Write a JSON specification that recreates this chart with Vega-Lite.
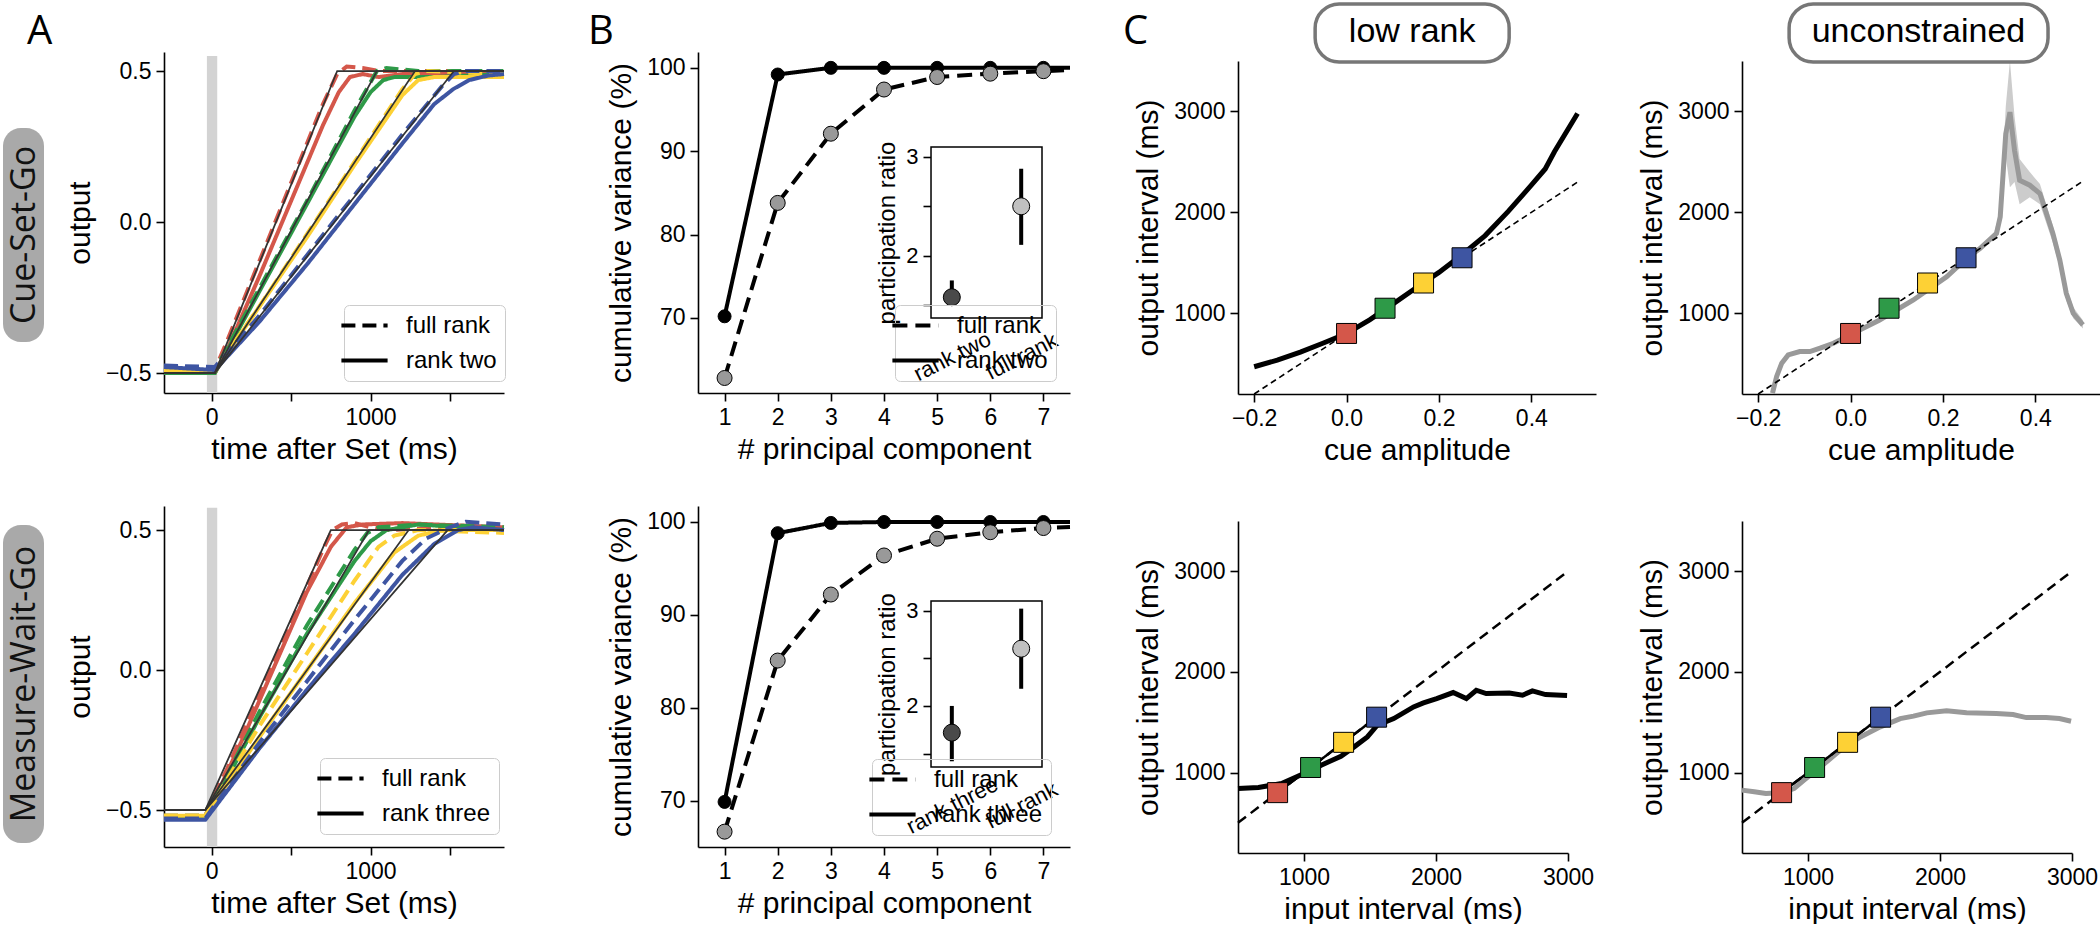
{
"$schema":"https://vega.github.io/schema/vega-lite/v6.json",
"background":"white",
"padding":{"left":3,"top":2,"right":0,"bottom":0},
"autosize":{"type":"pad"},
"columns":5,
"bounds":"flush",
"align":"each",
"spacing":{"row":112,"column":120},
"resolve":{"scale":{"strokeDash":"independent","color":"independent"},"legend":{"strokeDash":"independent"}},
"config":{
 "view":{"stroke":null},
 "font":"Liberation Sans",
 "axis":{"domainColor":"black","domainWidth":1.6,"tickColor":"black","tickWidth":1.6,"tickSize":8,"labelFont":"Liberation Sans","labelFontSize":23,"labelColor":"black","titleFont":"Liberation Sans","titleFontSize":30,"titleFontWeight":"normal","titleColor":"black","grid":false,"labelFlush":false,"labelOverlap":false,"labelPadding":5,"titlePadding":10},
 "axisX":{"titlePadding":5},
 "legend":{"labelFont":"Liberation Sans","labelFontSize":24,"labelColor":"black","symbolType":"M-2.2,0H2.2","symbolSize":441,"symbolStrokeWidth":4,"symbolStrokeColor":"black","strokeColor":"#cccccc","cornerRadius":5,"padding":8,"labelOffset":29,"rowPadding":10}
},
"datasets":{
 "aTop":[
  {"t":-300,"y":-0.49,"c":"red","m":"full rank"},{"t":20,"y":-0.49,"c":"red","m":"full rank"},{"t":100,"y":-0.39,"c":"red","m":"full rank"},{"t":300,"y":-0.13,"c":"red","m":"full rank"},{"t":500,"y":0.13,"c":"red","m":"full rank"},{"t":700,"y":0.39,"c":"red","m":"full rank"},{"t":790,"y":0.49,"c":"red","m":"full rank"},{"t":850,"y":0.515,"c":"red","m":"full rank"},{"t":950,"y":0.51,"c":"red","m":"full rank"},{"t":1050,"y":0.5,"c":"red","m":"full rank"},{"t":1300,"y":0.5,"c":"red","m":"full rank"},{"t":1840,"y":0.5,"c":"red","m":"full rank"},
  {"t":-300,"y":-0.5,"c":"red","m":"rank two"},{"t":20,"y":-0.5,"c":"red","m":"rank two"},{"t":100,"y":-0.42,"c":"red","m":"rank two"},{"t":300,"y":-0.18,"c":"red","m":"rank two"},{"t":500,"y":0.07,"c":"red","m":"rank two"},{"t":700,"y":0.32,"c":"red","m":"rank two"},{"t":800,"y":0.43,"c":"red","m":"rank two"},{"t":870,"y":0.48,"c":"red","m":"rank two"},{"t":950,"y":0.49,"c":"red","m":"rank two"},{"t":1050,"y":0.48,"c":"red","m":"rank two"},{"t":1200,"y":0.49,"c":"red","m":"rank two"},{"t":1840,"y":0.49,"c":"red","m":"rank two"},
  {"t":-300,"y":-0.49,"c":"green","m":"full rank"},{"t":20,"y":-0.49,"c":"green","m":"full rank"},{"t":300,"y":-0.22,"c":"green","m":"full rank"},{"t":600,"y":0.07,"c":"green","m":"full rank"},{"t":900,"y":0.37,"c":"green","m":"full rank"},{"t":1040,"y":0.5,"c":"green","m":"full rank"},{"t":1100,"y":0.51,"c":"green","m":"full rank"},{"t":1300,"y":0.5,"c":"green","m":"full rank"},{"t":1840,"y":0.5,"c":"green","m":"full rank"},
  {"t":-300,"y":-0.5,"c":"green","m":"rank two"},{"t":20,"y":-0.5,"c":"green","m":"rank two"},{"t":300,"y":-0.23,"c":"green","m":"rank two"},{"t":600,"y":0.06,"c":"green","m":"rank two"},{"t":900,"y":0.35,"c":"green","m":"rank two"},{"t":1000,"y":0.43,"c":"green","m":"rank two"},{"t":1080,"y":0.47,"c":"green","m":"rank two"},{"t":1150,"y":0.48,"c":"green","m":"rank two"},{"t":1400,"y":0.48,"c":"green","m":"rank two"},{"t":1840,"y":0.49,"c":"green","m":"rank two"},
  {"t":-300,"y":-0.49,"c":"yellow","m":"full rank"},{"t":20,"y":-0.49,"c":"yellow","m":"full rank"},{"t":300,"y":-0.28,"c":"yellow","m":"full rank"},{"t":600,"y":-0.04,"c":"yellow","m":"full rank"},{"t":900,"y":0.2,"c":"yellow","m":"full rank"},{"t":1200,"y":0.44,"c":"yellow","m":"full rank"},{"t":1280,"y":0.49,"c":"yellow","m":"full rank"},{"t":1350,"y":0.5,"c":"yellow","m":"full rank"},{"t":1840,"y":0.49,"c":"yellow","m":"full rank"},
  {"t":-300,"y":-0.495,"c":"yellow","m":"rank two"},{"t":20,"y":-0.495,"c":"yellow","m":"rank two"},{"t":300,"y":-0.28,"c":"yellow","m":"rank two"},{"t":600,"y":-0.05,"c":"yellow","m":"rank two"},{"t":900,"y":0.19,"c":"yellow","m":"rank two"},{"t":1200,"y":0.42,"c":"yellow","m":"rank two"},{"t":1300,"y":0.47,"c":"yellow","m":"rank two"},{"t":1400,"y":0.48,"c":"yellow","m":"rank two"},{"t":1600,"y":0.48,"c":"yellow","m":"rank two"},{"t":1840,"y":0.48,"c":"yellow","m":"rank two"},
  {"t":-300,"y":-0.475,"c":"blue","m":"full rank"},{"t":20,"y":-0.48,"c":"blue","m":"full rank"},{"t":300,"y":-0.31,"c":"blue","m":"full rank"},{"t":600,"y":-0.11,"c":"blue","m":"full rank"},{"t":900,"y":0.09,"c":"blue","m":"full rank"},{"t":1200,"y":0.29,"c":"blue","m":"full rank"},{"t":1450,"y":0.45,"c":"blue","m":"full rank"},{"t":1525,"y":0.49,"c":"blue","m":"full rank"},{"t":1600,"y":0.5,"c":"blue","m":"full rank"},{"t":1840,"y":0.5,"c":"blue","m":"full rank"},
  {"t":-300,"y":-0.48,"c":"blue","m":"rank two"},{"t":20,"y":-0.49,"c":"blue","m":"rank two"},{"t":300,"y":-0.33,"c":"blue","m":"rank two"},{"t":600,"y":-0.14,"c":"blue","m":"rank two"},{"t":900,"y":0.06,"c":"blue","m":"rank two"},{"t":1200,"y":0.26,"c":"blue","m":"rank two"},{"t":1400,"y":0.39,"c":"blue","m":"rank two"},{"t":1520,"y":0.44,"c":"blue","m":"rank two"},{"t":1620,"y":0.47,"c":"blue","m":"rank two"},{"t":1740,"y":0.485,"c":"blue","m":"rank two"},{"t":1840,"y":0.49,"c":"blue","m":"rank two"}
 ],
 "aTopT":[
  {"t":-300,"y":-0.5,"c":"red"},{"t":20,"y":-0.5,"c":"red"},{"t":790,"y":0.5,"c":"red"},{"t":1840,"y":0.5,"c":"red"},
  {"t":-300,"y":-0.5,"c":"green"},{"t":20,"y":-0.5,"c":"green"},{"t":1040,"y":0.5,"c":"green"},{"t":1840,"y":0.5,"c":"green"},
  {"t":-300,"y":-0.5,"c":"yellow"},{"t":20,"y":-0.5,"c":"yellow"},{"t":1280,"y":0.5,"c":"yellow"},{"t":1840,"y":0.5,"c":"yellow"},
  {"t":-300,"y":-0.5,"c":"blue"},{"t":20,"y":-0.5,"c":"blue"},{"t":1525,"y":0.5,"c":"blue"},{"t":1840,"y":0.5,"c":"blue"}
 ],
 "aBot":[
  {"t":-300,"y":-0.52,"c":"red","m":"full rank"},{"t":-40,"y":-0.52,"c":"red","m":"full rank"},{"t":0,"y":-0.47,"c":"red","m":"full rank"},{"t":100,"y":-0.35,"c":"red","m":"full rank"},{"t":300,"y":-0.09,"c":"red","m":"full rank"},{"t":500,"y":0.17,"c":"red","m":"full rank"},{"t":700,"y":0.43,"c":"red","m":"full rank"},{"t":760,"y":0.5,"c":"red","m":"full rank"},{"t":820,"y":0.52,"c":"red","m":"full rank"},{"t":900,"y":0.525,"c":"red","m":"full rank"},{"t":1000,"y":0.51,"c":"red","m":"full rank"},{"t":1100,"y":0.5,"c":"red","m":"full rank"},{"t":1300,"y":0.505,"c":"red","m":"full rank"},{"t":1500,"y":0.51,"c":"red","m":"full rank"},{"t":1840,"y":0.5,"c":"red","m":"full rank"},
  {"t":-300,"y":-0.525,"c":"red","m":"rank three"},{"t":-40,"y":-0.525,"c":"red","m":"rank three"},{"t":20,"y":-0.46,"c":"red","m":"rank three"},{"t":200,"y":-0.24,"c":"red","m":"rank three"},{"t":400,"y":0.02,"c":"red","m":"rank three"},{"t":600,"y":0.28,"c":"red","m":"rank three"},{"t":750,"y":0.44,"c":"red","m":"rank three"},{"t":850,"y":0.51,"c":"red","m":"rank three"},{"t":950,"y":0.52,"c":"red","m":"rank three"},{"t":1200,"y":0.525,"c":"red","m":"rank three"},{"t":1840,"y":0.51,"c":"red","m":"rank three"},
  {"t":-300,"y":-0.52,"c":"green","m":"full rank"},{"t":-40,"y":-0.52,"c":"green","m":"full rank"},{"t":20,"y":-0.46,"c":"green","m":"full rank"},{"t":300,"y":-0.15,"c":"green","m":"full rank"},{"t":600,"y":0.16,"c":"green","m":"full rank"},{"t":900,"y":0.43,"c":"green","m":"full rank"},{"t":980,"y":0.49,"c":"green","m":"full rank"},{"t":1050,"y":0.51,"c":"green","m":"full rank"},{"t":1300,"y":0.52,"c":"green","m":"full rank"},{"t":1840,"y":0.51,"c":"green","m":"full rank"},
  {"t":-300,"y":-0.53,"c":"green","m":"rank three"},{"t":-40,"y":-0.53,"c":"green","m":"rank three"},{"t":20,"y":-0.47,"c":"green","m":"rank three"},{"t":300,"y":-0.17,"c":"green","m":"rank three"},{"t":600,"y":0.13,"c":"green","m":"rank three"},{"t":900,"y":0.39,"c":"green","m":"rank three"},{"t":1000,"y":0.46,"c":"green","m":"rank three"},{"t":1100,"y":0.5,"c":"green","m":"rank three"},{"t":1300,"y":0.52,"c":"green","m":"rank three"},{"t":1840,"y":0.5,"c":"green","m":"rank three"},
  {"t":-300,"y":-0.52,"c":"yellow","m":"full rank"},{"t":-40,"y":-0.52,"c":"yellow","m":"full rank"},{"t":300,"y":-0.2,"c":"yellow","m":"full rank"},{"t":600,"y":0.06,"c":"yellow","m":"full rank"},{"t":900,"y":0.32,"c":"yellow","m":"full rank"},{"t":1050,"y":0.44,"c":"yellow","m":"full rank"},{"t":1150,"y":0.48,"c":"yellow","m":"full rank"},{"t":1300,"y":0.5,"c":"yellow","m":"full rank"},{"t":1840,"y":0.49,"c":"yellow","m":"full rank"},
  {"t":-300,"y":-0.52,"c":"yellow","m":"rank three"},{"t":-40,"y":-0.52,"c":"yellow","m":"rank three"},{"t":300,"y":-0.24,"c":"yellow","m":"rank three"},{"t":600,"y":0.0,"c":"yellow","m":"rank three"},{"t":900,"y":0.24,"c":"yellow","m":"rank three"},{"t":1150,"y":0.42,"c":"yellow","m":"rank three"},{"t":1300,"y":0.48,"c":"yellow","m":"rank three"},{"t":1450,"y":0.5,"c":"yellow","m":"rank three"},{"t":1840,"y":0.5,"c":"yellow","m":"rank three"},
  {"t":-300,"y":-0.53,"c":"blue","m":"full rank"},{"t":-40,"y":-0.53,"c":"blue","m":"full rank"},{"t":300,"y":-0.26,"c":"blue","m":"full rank"},{"t":600,"y":-0.04,"c":"blue","m":"full rank"},{"t":900,"y":0.18,"c":"blue","m":"full rank"},{"t":1200,"y":0.39,"c":"blue","m":"full rank"},{"t":1350,"y":0.47,"c":"blue","m":"full rank"},{"t":1500,"y":0.51,"c":"blue","m":"full rank"},{"t":1600,"y":0.53,"c":"blue","m":"full rank"},{"t":1840,"y":0.52,"c":"blue","m":"full rank"},
  {"t":-300,"y":-0.535,"c":"blue","m":"rank three"},{"t":-40,"y":-0.535,"c":"blue","m":"rank three"},{"t":300,"y":-0.28,"c":"blue","m":"rank three"},{"t":600,"y":-0.07,"c":"blue","m":"rank three"},{"t":900,"y":0.13,"c":"blue","m":"rank three"},{"t":1200,"y":0.34,"c":"blue","m":"rank three"},{"t":1400,"y":0.45,"c":"blue","m":"rank three"},{"t":1550,"y":0.5,"c":"blue","m":"rank three"},{"t":1650,"y":0.51,"c":"blue","m":"rank three"},{"t":1840,"y":0.5,"c":"blue","m":"rank three"}
 ],
 "aBotT":[
  {"t":-300,"y":-0.5,"c":"red"},{"t":-40,"y":-0.5,"c":"red"},{"t":750,"y":0.5,"c":"red"},{"t":1840,"y":0.5,"c":"red"},
  {"t":-300,"y":-0.5,"c":"green"},{"t":-40,"y":-0.5,"c":"green"},{"t":990,"y":0.5,"c":"green"},{"t":1840,"y":0.5,"c":"green"},
  {"t":-300,"y":-0.5,"c":"yellow"},{"t":-40,"y":-0.5,"c":"yellow"},{"t":1240,"y":0.5,"c":"yellow"},{"t":1840,"y":0.5,"c":"yellow"},
  {"t":-300,"y":-0.5,"c":"blue"},{"t":-40,"y":-0.5,"c":"blue"},{"t":1485,"y":0.5,"c":"blue"},{"t":1840,"y":0.5,"c":"blue"}
 ],
 "bTop":[
  {"pc":1,"v":70.2,"m":"rank two"},{"pc":2,"v":99.2,"m":"rank two"},{"pc":3,"v":100,"m":"rank two"},{"pc":4,"v":100,"m":"rank two"},{"pc":5,"v":100,"m":"rank two"},{"pc":6,"v":100,"m":"rank two"},{"pc":7,"v":100,"m":"rank two"},{"pc":7.5,"v":100,"m":"rank two"},
  {"pc":1,"v":62.8,"m":"full rank"},{"pc":2,"v":83.8,"m":"full rank"},{"pc":3,"v":92.1,"m":"full rank"},{"pc":4,"v":97.4,"m":"full rank"},{"pc":5,"v":98.9,"m":"full rank"},{"pc":6,"v":99.3,"m":"full rank"},{"pc":7,"v":99.6,"m":"full rank"},{"pc":7.5,"v":99.75,"m":"full rank"}
 ],
 "bBot":[
  {"pc":1,"v":69.9,"m":"rank three"},{"pc":2,"v":98.8,"m":"rank three"},{"pc":3,"v":99.9,"m":"rank three"},{"pc":4,"v":100,"m":"rank three"},{"pc":5,"v":100,"m":"rank three"},{"pc":6,"v":100,"m":"rank three"},{"pc":7,"v":100,"m":"rank three"},{"pc":7.5,"v":100,"m":"rank three"},
  {"pc":1,"v":66.7,"m":"full rank"},{"pc":2,"v":85.1,"m":"full rank"},{"pc":3,"v":92.2,"m":"full rank"},{"pc":4,"v":96.4,"m":"full rank"},{"pc":5,"v":98.2,"m":"full rank"},{"pc":6,"v":98.9,"m":"full rank"},{"pc":7,"v":99.35,"m":"full rank"},{"pc":7.5,"v":99.45,"m":"full rank"}
 ],
 "prTop":[{"xi":0,"m":"rank two","pr":1.58,"lo":1.5,"hi":1.75},{"xi":1,"m":"full rank","pr":2.5,"lo":2.11,"hi":2.88}],
 "prBot":[{"xi":0,"m":"rank three","pr":1.72,"lo":1.42,"hi":2.0},{"xi":1,"m":"full rank","pr":2.6,"lo":2.18,"hi":3.02}],
 "cueLow":[{"x":-0.2,"y":470},{"x":-0.15,"y":535},{"x":-0.1,"y":615},{"x":-0.05,"y":705},{"x":0,"y":800},{"x":0.05,"y":935},{"x":0.1,"y":1090},{"x":0.15,"y":1250},{"x":0.2,"y":1405},{"x":0.25,"y":1580},{"x":0.3,"y":1770},{"x":0.35,"y":2010},{"x":0.4,"y":2270},{"x":0.43,"y":2430},{"x":0.45,"y":2600},{"x":0.5,"y":2980}],
 "cueUnc":[{"x":-0.169,"y":209},{"x":-0.16,"y":374},{"x":-0.149,"y":506},{"x":-0.135,"y":588},{"x":-0.11,"y":621},{"x":-0.088,"y":621},{"x":-0.066,"y":654},{"x":-0.037,"y":703},{"x":-0.001,"y":786},{"x":0.063,"y":934},{"x":0.136,"y":1132},{"x":0.208,"y":1362},{"x":0.251,"y":1544},{"x":0.28,"y":1642},{"x":0.316,"y":1791},{"x":0.324,"y":1955},{"x":0.336,"y":2779},{"x":0.345,"y":2993},{"x":0.355,"y":2615},{"x":0.366,"y":2318},{"x":0.388,"y":2269},{"x":0.41,"y":2186},{"x":0.438,"y":1791},{"x":0.453,"y":1527},{"x":0.467,"y":1198},{"x":0.482,"y":1000},{"x":0.503,"y":885}],
 "cueUncBand":[{"x":0.31,"lo":1720,"hi":1790},{"x":0.324,"lo":1900,"hi":2010},{"x":0.336,"lo":2550,"hi":3050},{"x":0.345,"lo":2250,"hi":3500},{"x":0.355,"lo":2300,"hi":2950},{"x":0.366,"lo":2080,"hi":2530},{"x":0.388,"lo":2150,"hi":2400},{"x":0.41,"lo":2080,"hi":2280},{"x":0.438,"lo":1700,"hi":1870},{"x":0.453,"lo":1450,"hi":1600},{"x":0.467,"lo":1130,"hi":1260},{"x":0.482,"lo":950,"hi":1060},{"x":0.503,"lo":850,"hi":930}],
 "diagCue":[{"x":-0.2,"y":200},{"x":0.5,"y":2300}],
 "sqCue":[{"x":0,"y":800,"c":"red"},{"x":0.0833,"y":1050,"c":"green"},{"x":0.1667,"y":1300,"c":"yellow"},{"x":0.25,"y":1550,"c":"blue"}],
 "sqInt":[{"x":800,"y":800,"c":"red"},{"x":1050,"y":1050,"c":"green"},{"x":1300,"y":1300,"c":"yellow"},{"x":1550,"y":1550,"c":"blue"}],
 "diagInt":[{"x":500,"y":500,"seg":"dash"},{"x":3000,"y":3000,"seg":"dash"},{"x":800,"y":800,"seg":"solid"},{"x":1550,"y":1550,"seg":"solid"}],
 "intLow":[{"x":500,"y":840},{"x":655,"y":851},{"x":830,"y":891},{"x":1000,"y":990},{"x":1130,"y":1073},{"x":1280,"y":1162},{"x":1380,"y":1255},{"x":1480,"y":1354},{"x":1555,"y":1470},{"x":1680,"y":1536},{"x":1830,"y":1652},{"x":1905,"y":1692},{"x":2005,"y":1735},{"x":2130,"y":1795},{"x":2230,"y":1735},{"x":2305,"y":1818},{"x":2380,"y":1785},{"x":2555,"y":1791},{"x":2655,"y":1768},{"x":2730,"y":1811},{"x":2830,"y":1775},{"x":2993,"y":1765}],
 "intUnc":[{"x":500,"y":825},{"x":593,"y":808},{"x":681,"y":792},{"x":794,"y":798},{"x":894,"y":841},{"x":970,"y":924},{"x":1095,"y":1056},{"x":1246,"y":1222},{"x":1397,"y":1354},{"x":1548,"y":1454},{"x":1699,"y":1536},{"x":1799,"y":1560},{"x":1900,"y":1593},{"x":2050,"y":1613},{"x":2201,"y":1593},{"x":2427,"y":1586},{"x":2553,"y":1576},{"x":2654,"y":1546},{"x":2804,"y":1546},{"x":2905,"y":1536},{"x":2993,"y":1510}]
},
"concat":[
 {"width":41,"height":342,"data":{"values":[{"label":"Cue-Set-Go"}]},
  "layer":[
   {"mark":{"type":"rect","fill":"#a9a9a9","cornerRadius":18},
    "encoding":{"x":{"datum":0,"type":"quantitative","scale":{"domain":[0,1],"nice":false,"zero":false},"axis":null},"x2":{"datum":1},
     "y":{"datum":0.152,"type":"quantitative","scale":{"domain":[0,1],"nice":false,"zero":false},"axis":null},"y2":{"datum":0.778}}},
   {"mark":{"type":"text","angle":270,"font":"Open Sans","fontSize":34,"align":"center","baseline":"middle","color":"#111111"},
    "encoding":{"x":{"datum":0.53,"type":"quantitative"},"y":{"datum":0.465,"type":"quantitative"},"text":{"field":"label"}}}
  ]},
 {"width":414,"height":341,
  "layer":[
   {"data":{"values":[{}]},"mark":{"type":"rect","color":"#d3d3d3"},
    "encoding":{"x":{"datum":-30,"type":"quantitative","scale":{"domain":[-300,1840],"range":[0,340],"nice":false,"zero":false},"axis":{"title":"time after Set (ms)","values":[0,500,1000,1500],"format":"d","labelExpr":"datum.value % 1000 == 0 ? datum.label : ''"}},"x2":{"datum":35},
     "y":{"datum":-0.566,"type":"quantitative","scale":{"domain":[-0.566,0.563],"nice":false,"zero":false},"axis":{"title":"output","values":[-0.5,0,0.5],"format":".1f"}},"y2":{"datum":0.55}}},
   {"data":{"name":"aTop"},"mark":{"type":"line","strokeWidth":4},
    "encoding":{"x":{"field":"t","type":"quantitative"},"y":{"field":"y","type":"quantitative"},
     "color":{"field":"c","type":"nominal","scale":{"domain":["red","green","yellow","blue"],"range":["#d4574a","#2e9a48","#fdd135","#3e55a2"]},"legend":null},
     "strokeDash":{"field":"m","type":"nominal","scale":{"domain":["full rank","rank two"],"range":[[14,7],[1,0]]},"legend":{"title":null,"orient":"none","legendX":180,"legendY":253,"fillColor":"rgba(255,255,255,0.85)"}}}},
   {"data":{"name":"aTopT"},"mark":{"type":"line","strokeWidth":1.8,"color":"#333333"},
    "encoding":{"x":{"field":"t","type":"quantitative"},"y":{"field":"y","type":"quantitative"},"detail":{"field":"c"}}},
   {"data":{"values":[{"txt":"A"}]},"mark":{"type":"text","font":"Open Sans","fontSize":40,"align":"left","baseline":"alphabetic","color":"black"},
    "encoding":{"x":{"datum":-1162,"type":"quantitative"},"y":{"datum":0.5895,"type":"quantitative"},"text":{"field":"txt"}}}
  ]},
 {"width":420,"height":341,
  "resolve":{"scale":{"x":"independent","y":"independent"}},
  "layer":[
   {"layer":[
     {"data":{"name":"bTop"},"mark":{"type":"line","strokeWidth":4,"color":"black"},
      "encoding":{"x":{"field":"pc","type":"quantitative","scale":{"domain":[0.5,7.5],"range":[0,372],"nice":false,"zero":false},"axis":{"orient":"bottom","title":"# principal component","values":[1,2,3,4,5,6,7],"format":"d"}},
       "y":{"field":"v","type":"quantitative","scale":{"domain":[61,101.9],"nice":false,"zero":false},"axis":{"orient":"left","title":"cumulative variance (%)","values":[70,80,90,100],"format":"d"}},
       "strokeDash":{"field":"m","type":"nominal","scale":{"domain":["full rank","rank two"],"range":[[15,8],[1,0]]},"legend":{"title":null,"orient":"none","legendX":197,"legendY":253,"fillColor":null}}}},
     {"data":{"name":"bTop"},"transform":[{"filter":"datum.pc <= 7"}],"mark":{"type":"point","shape":"circle","filled":true,"opacity":1,"stroke":"black","strokeWidth":1},
      "encoding":{"x":{"field":"pc","type":"quantitative"},"y":{"field":"v","type":"quantitative"},
       "fill":{"condition":{"test":"datum.m == 'full rank'","value":"#999999"},"value":"black"},
       "size":{"condition":{"test":"datum.m == 'full rank'","value":225},"value":169}}},
     {"data":{"values":[{"txt":"B"}]},"mark":{"type":"text","font":"Open Sans","fontSize":40,"align":"left","baseline":"alphabetic","color":"black"},
      "encoding":{"x":{"datum":-1.57,"type":"quantitative"},"y":{"datum":102.88,"type":"quantitative"},"text":{"field":"txt"}}}
   ]},
   {"layer":[
     {"data":{"values":[{}]},"mark":{"type":"rect","fill":"white","stroke":"black","strokeWidth":1.5},
      "encoding":{"x":{"datum":-0.3,"type":"quantitative","scale":{"domain":[-3.659,2.3955],"nice":false,"zero":false},"axis":{"orient":"bottom","offset":-75,"title":null,"values":[0,1],"labelExpr":"datum.value == 0 ? 'rank two' : 'full rank'","labelAngle":333,"labelAlign":"center","labelBaseline":"middle","labelPadding":38,"ticks":false,"domain":false,"labelFontSize":22}},"x2":{"datum":1.3},
       "y":{"datum":1.37,"type":"quantitative","scale":{"domain":[1.37,3.1],"range":[266,95],"nice":false,"zero":false},"axis":{"orient":"left","offset":-233,"title":"participation ratio","titleFontSize":24,"titlePadding":6,"labelFontSize":22,"values":[1.5,2,2.5,3],"labelExpr":"datum.value == 2 ? '2' : datum.value == 3 ? '3' : ''","domain":false}},"y2":{"datum":3.1}}},
     {"data":{"name":"prTop"},"mark":{"type":"rule","strokeWidth":4,"color":"black"},
      "encoding":{"x":{"field":"xi","type":"quantitative"},"y":{"field":"lo","type":"quantitative"},"y2":{"field":"hi"}}},
     {"data":{"name":"prTop"},"mark":{"type":"point","shape":"circle","filled":true,"opacity":1,"size":289,"stroke":"black","strokeWidth":1},
      "encoding":{"x":{"field":"xi","type":"quantitative"},"y":{"field":"pr","type":"quantitative"},
       "fill":{"condition":{"test":"datum.xi == 0","value":"#4a4a4a"},"value":"#c0c0c0"}}}
   ]}
  ]},
 {"width":384,"height":342,
  "layer":[
   {"data":{"name":"diagCue"},"mark":{"type":"line","strokeWidth":1.6,"color":"black","strokeDash":[6,4]},
    "encoding":{"x":{"field":"x","type":"quantitative","scale":{"domain":[-0.235,0.54],"range":[0,358],"nice":false,"zero":false},"axis":{"title":"cue amplitude","values":[-0.2,0,0.2,0.4],"format":".1f"}},
     "y":{"field":"y","type":"quantitative","scale":{"domain":[200,3500],"range":[342,9],"nice":false,"zero":false},"axis":{"title":"output interval (ms)","values":[1000,2000,3000],"format":"d"}}}},
   {"data":{"name":"cueLow"},"mark":{"type":"line","strokeWidth":5,"color":"black"},
    "encoding":{"x":{"field":"x","type":"quantitative"},"y":{"field":"y","type":"quantitative"}}},
   {"data":{"name":"sqCue"},"mark":{"type":"point","shape":"square","filled":true,"opacity":1,"size":400,"stroke":"black","strokeWidth":1},
    "encoding":{"x":{"field":"x","type":"quantitative"},"y":{"field":"y","type":"quantitative"},
     "color":{"field":"c","type":"nominal","scale":{"domain":["red","green","yellow","blue"],"range":["#d4574a","#2e9a48","#fdd135","#3e55a2"]},"legend":null}}},
   {"data":{"values":[{"txt":"low rank"}]},"mark":{"type":"rect","fill":"white","stroke":"#777777","strokeWidth":3.5,"cornerRadius":24},
    "encoding":{"x":{"datum":-0.068,"type":"quantitative"},"x2":{"datum":0.352},"y":{"datum":3490,"type":"quantitative"},"y2":{"datum":4065}}},
   {"data":{"values":[{"txt":"low rank"}]},"mark":{"type":"text","font":"Liberation Sans","fontSize":34,"align":"center","baseline":"middle","color":"black"},
    "encoding":{"x":{"datum":0.142,"type":"quantitative"},"y":{"datum":3785,"type":"quantitative"},"text":{"field":"txt"}}},
   {"data":{"values":[{"txt":"C"}]},"mark":{"type":"text","font":"Open Sans","fontSize":40,"align":"left","baseline":"alphabetic","color":"black"},
    "encoding":{"x":{"datum":-0.484,"type":"quantitative"},"y":{"datum":3668,"type":"quantitative"},"text":{"field":"txt"}}}
  ]},
 {"width":358,"height":342,
  "layer":[
   {"data":{"name":"cueUncBand"},"mark":{"type":"area","color":"#cccccc","opacity":1},
    "encoding":{"x":{"field":"x","type":"quantitative","scale":{"domain":[-0.235,0.54],"range":[0,358],"nice":false,"zero":false},"axis":{"title":"cue amplitude","values":[-0.2,0,0.2,0.4],"format":".1f"}},
     "y":{"field":"lo","type":"quantitative","scale":{"domain":[200,3500],"range":[342,9],"nice":false,"zero":false},"axis":{"title":"output interval (ms)","values":[1000,2000,3000],"format":"d"}},"y2":{"field":"hi"}}},
   {"data":{"name":"cueUnc"},"mark":{"type":"line","strokeWidth":5,"color":"#999999"},
    "encoding":{"x":{"field":"x","type":"quantitative"},"y":{"field":"y","type":"quantitative"}}},
   {"data":{"name":"diagCue"},"mark":{"type":"line","strokeWidth":1.6,"color":"black","strokeDash":[6,4]},
    "encoding":{"x":{"field":"x","type":"quantitative"},"y":{"field":"y","type":"quantitative"}}},
   {"data":{"name":"sqCue"},"mark":{"type":"point","shape":"square","filled":true,"opacity":1,"size":400,"stroke":"black","strokeWidth":1},
    "encoding":{"x":{"field":"x","type":"quantitative"},"y":{"field":"y","type":"quantitative"},
     "color":{"field":"c","type":"nominal","scale":{"domain":["red","green","yellow","blue"],"range":["#d4574a","#2e9a48","#fdd135","#3e55a2"]},"legend":null}}},
   {"data":{"values":[{"txt":"unconstrained"}]},"mark":{"type":"rect","fill":"white","stroke":"#777777","strokeWidth":3.5,"cornerRadius":24},
    "encoding":{"x":{"datum":-0.133,"type":"quantitative"},"x2":{"datum":0.4275},"y":{"datum":3490,"type":"quantitative"},"y2":{"datum":4065}}},
   {"data":{"values":[{"txt":"unconstrained"}]},"mark":{"type":"text","font":"Liberation Sans","fontSize":34,"align":"center","baseline":"middle","color":"black"},
    "encoding":{"x":{"datum":0.147,"type":"quantitative"},"y":{"datum":3785,"type":"quantitative"},"text":{"field":"txt"}}}
  ]},
 {"width":41,"height":341,"data":{"values":[{"label":"Measure-Wait-Go"}]},
  "layer":[
   {"mark":{"type":"rect","fill":"#a9a9a9","cornerRadius":18},
    "encoding":{"x":{"datum":0,"type":"quantitative","scale":{"domain":[0,1],"nice":false,"zero":false},"axis":null},"x2":{"datum":1},
     "y":{"datum":0.012,"type":"quantitative","scale":{"domain":[0,1],"nice":false,"zero":false},"axis":null},"y2":{"datum":0.944}}},
   {"mark":{"type":"text","angle":270,"font":"Open Sans","fontSize":34,"align":"center","baseline":"middle","color":"#111111"},
    "encoding":{"x":{"datum":0.53,"type":"quantitative"},"y":{"datum":0.478,"type":"quantitative"},"text":{"field":"label"}}}
  ]},
 {"width":414,"height":341,
  "layer":[
   {"data":{"values":[{}]},"mark":{"type":"rect","color":"#d3d3d3"},
    "encoding":{"x":{"datum":-30,"type":"quantitative","scale":{"domain":[-300,1840],"range":[0,340],"nice":false,"zero":false},"axis":{"title":"time after Set (ms)","values":[0,500,1000,1500],"format":"d","labelExpr":"datum.value % 1000 == 0 ? datum.label : ''"}},"x2":{"datum":35},
     "y":{"datum":-0.632,"type":"quantitative","scale":{"domain":[-0.632,0.586],"nice":false,"zero":false},"axis":{"title":"output","values":[-0.5,0,0.5],"format":".1f"}},"y2":{"datum":0.58}}},
   {"data":{"name":"aBot"},"mark":{"type":"line","strokeWidth":4},
    "encoding":{"x":{"field":"t","type":"quantitative"},"y":{"field":"y","type":"quantitative"},
     "color":{"field":"c","type":"nominal","scale":{"domain":["red","green","yellow","blue"],"range":["#d4574a","#2e9a48","#fdd135","#3e55a2"]},"legend":null},
     "strokeDash":{"field":"m","type":"nominal","scale":{"domain":["full rank","rank three"],"range":[[14,7],[1,0]]},"legend":{"title":null,"orient":"none","legendX":156,"legendY":252,"fillColor":"rgba(255,255,255,0.85)"}}}},
   {"data":{"name":"aBotT"},"mark":{"type":"line","strokeWidth":1.8,"color":"#333333"},
    "encoding":{"x":{"field":"t","type":"quantitative"},"y":{"field":"y","type":"quantitative"},"detail":{"field":"c"}}}
  ]},
 {"width":420,"height":341,
  "resolve":{"scale":{"x":"independent","y":"independent"}},
  "layer":[
   {"layer":[
     {"data":{"name":"bBot"},"mark":{"type":"line","strokeWidth":4,"color":"black"},
      "encoding":{"x":{"field":"pc","type":"quantitative","scale":{"domain":[0.5,7.5],"range":[0,372],"nice":false,"zero":false},"axis":{"orient":"bottom","title":"# principal component","values":[1,2,3,4,5,6,7],"format":"d"}},
       "y":{"field":"v","type":"quantitative","scale":{"domain":[65.05,101.72],"nice":false,"zero":false},"axis":{"orient":"left","title":"cumulative variance (%)","values":[70,80,90,100],"format":"d"}},
       "strokeDash":{"field":"m","type":"nominal","scale":{"domain":["full rank","rank three"],"range":[[15,8],[1,0]]},"legend":{"title":null,"orient":"none","legendX":174,"legendY":253,"fillColor":null}}}},
     {"data":{"name":"bBot"},"transform":[{"filter":"datum.pc <= 7"}],"mark":{"type":"point","shape":"circle","filled":true,"opacity":1,"stroke":"black","strokeWidth":1},
      "encoding":{"x":{"field":"pc","type":"quantitative"},"y":{"field":"v","type":"quantitative"},
       "fill":{"condition":{"test":"datum.m == 'full rank'","value":"#999999"},"value":"black"},
       "size":{"condition":{"test":"datum.m == 'full rank'","value":225},"value":169}}}
   ]},
   {"layer":[
     {"data":{"values":[{}]},"mark":{"type":"rect","fill":"white","stroke":"black","strokeWidth":1.5},
      "encoding":{"x":{"datum":-0.3,"type":"quantitative","scale":{"domain":[-3.659,2.3955],"nice":false,"zero":false},"axis":{"orient":"bottom","offset":-80,"title":null,"values":[0,1],"labelExpr":"datum.value == 0 ? 'rank three' : 'full rank'","labelAngle":333,"labelAlign":"center","labelBaseline":"middle","labelPadding":38,"ticks":false,"domain":false,"labelFontSize":22}},"x2":{"datum":1.3},
       "y":{"datum":1.36,"type":"quantitative","scale":{"domain":[1.36,3.1],"range":[261,95],"nice":false,"zero":false},"axis":{"orient":"left","offset":-233,"title":"participation ratio","titleFontSize":24,"titlePadding":6,"labelFontSize":22,"values":[1.5,2,2.5,3],"labelExpr":"datum.value == 2 ? '2' : datum.value == 3 ? '3' : ''","domain":false}},"y2":{"datum":3.1}}},
     {"data":{"name":"prBot"},"mark":{"type":"rule","strokeWidth":4,"color":"black"},
      "encoding":{"x":{"field":"xi","type":"quantitative"},"y":{"field":"lo","type":"quantitative"},"y2":{"field":"hi"}}},
     {"data":{"name":"prBot"},"mark":{"type":"point","shape":"circle","filled":true,"opacity":1,"size":289,"stroke":"black","strokeWidth":1},
      "encoding":{"x":{"field":"xi","type":"quantitative"},"y":{"field":"pr","type":"quantitative"},
       "fill":{"condition":{"test":"datum.xi == 0","value":"#4a4a4a"},"value":"#c0c0c0"}}}
   ]}
  ]},
 {"width":384,"height":347,
  "layer":[
   {"data":{"name":"diagInt"},"mark":{"type":"line","strokeWidth":2.5,"color":"black"},
    "encoding":{"x":{"field":"x","type":"quantitative","scale":{"domain":[500,3000],"range":[0,330],"nice":false,"zero":false},"axis":{"title":"input interval (ms)","values":[1000,2000,3000],"format":"d"}},
     "y":{"field":"y","type":"quantitative","scale":{"domain":[200,3500],"range":[347,15],"nice":false,"zero":false},"axis":{"title":"output interval (ms)","values":[1000,2000,3000],"format":"d"}},
     "strokeDash":{"field":"seg","type":"nominal","scale":{"domain":["dash","solid"],"range":[[10,6],[1,0]]},"legend":null}}},
   {"data":{"name":"intLow"},"mark":{"type":"line","strokeWidth":5,"color":"black"},
    "encoding":{"x":{"field":"x","type":"quantitative"},"y":{"field":"y","type":"quantitative"}}},
   {"data":{"name":"sqInt"},"mark":{"type":"point","shape":"square","filled":true,"opacity":1,"size":400,"stroke":"black","strokeWidth":1},
    "encoding":{"x":{"field":"x","type":"quantitative"},"y":{"field":"y","type":"quantitative"},
     "color":{"field":"c","type":"nominal","scale":{"domain":["red","green","yellow","blue"],"range":["#d4574a","#2e9a48","#fdd135","#3e55a2"]},"legend":null}}}
  ]},
 {"width":330,"height":347,
  "layer":[
   {"data":{"name":"intUnc"},"mark":{"type":"line","strokeWidth":5,"color":"#999999"},
    "encoding":{"x":{"field":"x","type":"quantitative","scale":{"domain":[500,3000],"nice":false,"zero":false},"axis":{"title":"input interval (ms)","values":[1000,2000,3000],"format":"d"}},
     "y":{"field":"y","type":"quantitative","scale":{"domain":[200,3500],"range":[347,15],"nice":false,"zero":false},"axis":{"title":"output interval (ms)","values":[1000,2000,3000],"format":"d"}}}},
   {"data":{"name":"diagInt"},"mark":{"type":"line","strokeWidth":2.5,"color":"black"},
    "encoding":{"x":{"field":"x","type":"quantitative"},"y":{"field":"y","type":"quantitative"},
     "strokeDash":{"field":"seg","type":"nominal","scale":{"domain":["dash","solid"],"range":[[10,6],[1,0]]},"legend":null}}},
   {"data":{"name":"sqInt"},"mark":{"type":"point","shape":"square","filled":true,"opacity":1,"size":400,"stroke":"black","strokeWidth":1},
    "encoding":{"x":{"field":"x","type":"quantitative"},"y":{"field":"y","type":"quantitative"},
     "color":{"field":"c","type":"nominal","scale":{"domain":["red","green","yellow","blue"],"range":["#d4574a","#2e9a48","#fdd135","#3e55a2"]},"legend":null}}}
  ]}
]
}
